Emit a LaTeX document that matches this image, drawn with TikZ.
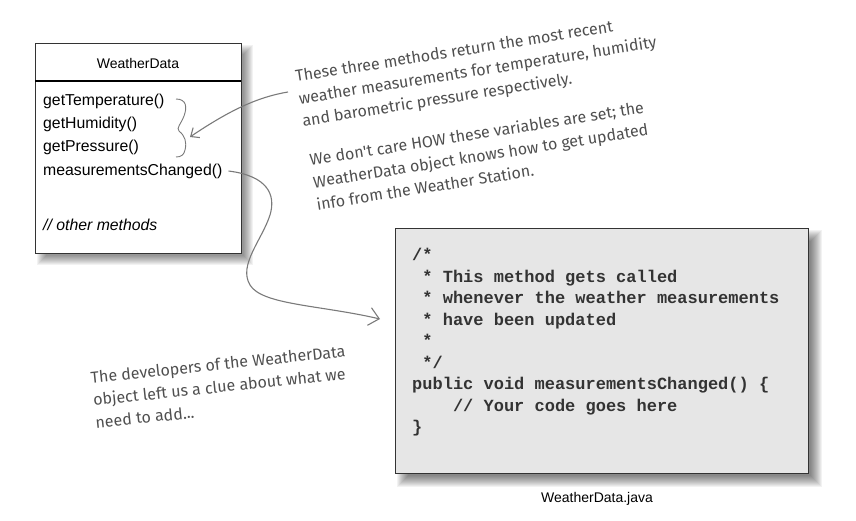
\documentclass[tikz,border=0pt]{standalone}
\usepackage{fontspec}
\setmainfont{Liberation Sans}
\newfontfamily\codefont{Liberation Mono}
\newfontfamily\handfont{Fira Sans}
\usetikzlibrary{arrows.meta,positioning,calc}
\definecolor{ink}{HTML}{333333}
\definecolor{pencil}{HTML}{4F4F4F}
\definecolor{codebg}{HTML}{E6E6E6}
\definecolor{wirecol}{HTML}{7A7A7A}

\begin{document}
\begin{tikzpicture}[x=1pt, y=-1pt,
  method/.style={anchor=west, inner sep=0pt, font=\fontsize{15.8}{18}\selectfont},
  note/.style={anchor=west, align=left, inner sep=0pt, text=pencil,
               font=\handfont\fontsize{16}{22.5}\selectfont},
  wire/.style={draw=wirecol, line width=1.1pt},
  shade/.style={fill=black, opacity=0.05}
]
  \useasboundingbox (0,0) rectangle (856,521);

  % Class box
  \foreach \i in {0,...,9}
    \fill[shade] ({35+\i+2},{43+\i+2}) rectangle ({241+12-\i},{253+12-\i});
  \node[draw=ink, fill=white, minimum width=206pt, minimum height=210pt,
        inner sep=0pt, anchor=north west] (cls) at (35,43) {};
  \draw[line width=2pt] (35,81) -- (241,81);
  \node[font=\fontsize{14}{16}\selectfont] (wd) at (138,63) {WeatherData};
  \node[method] (getT) at (43,101) {getTemperature()};
  \node[method] (getH) at (43,124) {getHumidity()};
  \node[method] (getP) at (43,147) {getPressure()};
  \node[method] (mc) at (43,171) {measurementsChanged()};
  \node[method, font=\fontsize{15.8}{18}\selectfont\itshape] (other) at (43,225) {// other methods};

  % Brace
  \draw[wire, line width=0.9pt] (176,99) .. controls (187,99) and (187,108) .. (184,116)
    .. controls (181,124) and (176,128) .. (179,131)
    .. controls (185,136) and (187,142) .. (185,150)
    .. controls (184,155) and (181,157) .. (176,157);

  % Notes
  \node[note, rotate=9] (three) at (299,100)
    {These three methods return the most recent\\weather measurements for temperature, humidity\\and barometric pressure respectively.};
  \node[note, rotate=9] (how) at (313,182)
    {We don't care HOW these variables are set; the\\WeatherData object knows how to get updated\\info from the Weather Station.};
  \node[note, rotate=6] (clue) at (93,400)
    {The developers of the WeatherData\\object left us a clue about what we\\need to add...};

  \coordinate (ptr) at (288,92);
  \coordinate (brc) at (190,137);
  \coordinate (hint) at (380,319);
  \draw[wire, -{Straight Barb[length=7pt,width=12pt]}] (ptr)
    .. controls (258,97) and (230,110) .. (brc);

  % Code listing
  \foreach \i in {0,...,11}
    \fill[shade] ({395+\i+2},{228+\i+2}) rectangle ({808+14-\i},{473+14-\i});
  \node[draw=ink, line width=1.3pt, fill=codebg, minimum width=413pt,
        minimum height=245pt, inner sep=0pt, anchor=north west] (src) at (395,228) {};
  \node[anchor=north west, inner sep=0pt, align=left, text=ink,
        font=\codefont\bfseries\fontsize{17}{21.5}\selectfont] (code) at (412,248)
    {/*\\
     \mbox{\ }* This method gets called\\
     \mbox{\ }* whenever the weather measurements\\
     \mbox{\ }* have been updated\\
     \mbox{\ }*\\
     \mbox{\ }*/\\
     public void measurementsChanged() \{\\
     \mbox{\ \ \ \ }// Your code goes here\\
     \}};
  \node[font=\fontsize{14}{16}\selectfont] (fname) at (597,499) {WeatherData.java};

  \draw[wire, -{Straight Barb[length=10pt,width=18pt]}] ([xshift=6pt]mc.east)
    .. controls (268,176) and (276,195) .. (270,215)
    .. controls (262,240) and (238,265) .. (250,285)
    .. controls (262,305) and (320,305) .. (hint);
\end{tikzpicture}
\end{document}
